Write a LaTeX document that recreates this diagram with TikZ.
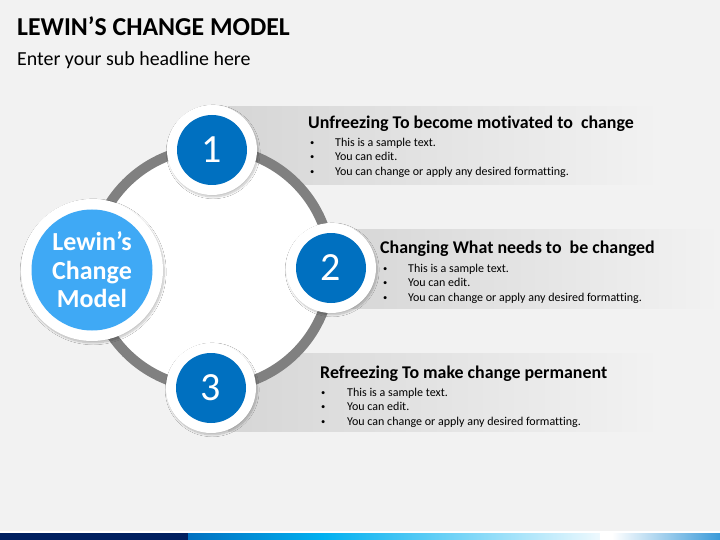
\documentclass[tikz,border=0pt]{standalone}
\usepackage{fontspec}
\setmainfont{Carlito}[Ligatures=NoCommon]
\usetikzlibrary{shadows.blur}
\definecolor{bg}{HTML}{F2F2F2}
\definecolor{darkblue}{HTML}{0070C0}
\definecolor{lightblue}{HTML}{3FA9F5}
\definecolor{ringgray}{HTML}{808080}
\definecolor{bandgray}{HTML}{D6D6D6}
\definecolor{navy}{HTML}{002060}
\definecolor{cyanbar}{HTML}{00B0F0}
\definecolor{paleend}{HTML}{EEF9FE}
\definecolor{barend}{HTML}{3A9AD9}
\begin{document}
\begin{tikzpicture}[x=1pt,y=-1pt,
  outerdisc/.style={circle, fill=white, draw=none, inner sep=0pt,
    blur shadow={shadow xshift=1.2pt, shadow yshift=-1.8pt, shadow opacity=25, shadow blur steps=10}},
  numdisc/.style={circle, fill=darkblue, minimum size=70pt, inner sep=0pt, text=white,
    font=\fontsize{40}{40}\selectfont},
  heading/.style={anchor=base west, inner sep=0pt, font=\bfseries\fontsize{17.9}{20}\selectfont},
  bullettext/.style={anchor=base west, inner sep=0pt, font=\fontsize{12}{14}\selectfont},
  bulletdot/.style={anchor=base west, inner sep=0pt, font=\fontsize{8.5}{10}\selectfont},
  band/.style={left color=bandgray, right color=bg, draw=none}]
% background
\fill[bg] (0,0) rectangle (720,540);
\useasboundingbox (0,0) rectangle (720,540);
% title
\node[anchor=base west, inner sep=0pt, font=\bfseries\fontsize{25.8}{30}\selectfont] (title) at (17,36) {LEWIN’S CHANGE MODEL};
\node[anchor=base west, inner sep=0pt, font=\fontsize{19.9}{24}\selectfont] (subtitle) at (17,66) {Enter your sub headline here};
% bands
\shade[band] (228,107) rectangle (660,185);
\shade[band] (335,230) rectangle (720,308);
\shade[band] (228,353) rectangle (660,431);
% ring
\node[circle, draw=ringgray, line width=10pt, fill=white, minimum size=240pt, inner sep=0pt] (ring) at (211,268) {};
% central circle
\node[outerdisc, minimum size=142pt] (lewinouter) at (92,270) {};
\node[circle, fill=lightblue, minimum size=121pt, inner sep=0pt] (lewininner) at (92,270) {};
\node[align=center, text=white, inner sep=0pt, font=\bfseries\fontsize{26}{28.5}\selectfont] (lewintext) at (92,270) {Lewin’s\\Change\\Model};
% step circles
\node[outerdisc, minimum size=90pt] (o1) at (212,150) {};
\node[numdisc] (n1) at (212,150) {1};
\node[outerdisc, minimum size=90pt] (o2) at (331,268) {};
\node[numdisc] (n2) at (331,268) {2};
\node[outerdisc, minimum size=90pt] (o3) at (211,388) {};
\node[numdisc] (n3) at (211,388) {3};
% texts step 1
\node[heading] (h1) at (308,129) {Unfreezing To become motivated to\ \ change};
\node[bulletdot] (b1a) at (310,146) {•};
\node[bullettext] (t1a) at (335,147) {This is a sample text.};
\node[bulletdot] (b1b) at (310,160) {•};
\node[bullettext] (t1b) at (335,161) {You can edit.};
\node[bulletdot] (b1c) at (310,175) {•};
\node[bullettext] (t1c) at (335,176) {You can change or apply any desired formatting.};
% texts step 2
\node[heading] (h2) at (380,254) {Changing What needs to\ \ be changed};
\node[bulletdot] (b2a) at (383,271) {•};
\node[bullettext] (t2a) at (408,272) {This is a sample text.};
\node[bulletdot] (b2b) at (383,285) {•};
\node[bullettext] (t2b) at (408,286) {You can edit.};
\node[bulletdot] (b2c) at (383,300) {•};
\node[bullettext] (t2c) at (408,301) {You can change or apply any desired formatting.};
% texts step 3
\node[heading] (h3) at (320,378) {Refreezing To make change permanent};
\node[bulletdot] (b3a) at (321,395) {•};
\node[bullettext] (t3a) at (347,396) {This is a sample text.};
\node[bulletdot] (b3b) at (321,409) {•};
\node[bullettext] (t3b) at (347,410) {You can edit.};
\node[bulletdot] (b3c) at (321,424) {•};
\node[bullettext] (t3c) at (347,425) {You can change or apply any desired formatting.};
% bottom bar
\fill[white] (0,531) rectangle (720,533);
\fill[navy] (0,533) rectangle (188,540);
\shade[left color=darkblue, right color=cyanbar] (188,533) rectangle (322,540);
\shade[left color=cyanbar, right color=paleend] (322,533) rectangle (600,540);
\fill[white] (600,533) rectangle (612,540);
\shade[left color=white, right color=barend] (612,533) rectangle (720,540);
\end{tikzpicture}
\end{document}
